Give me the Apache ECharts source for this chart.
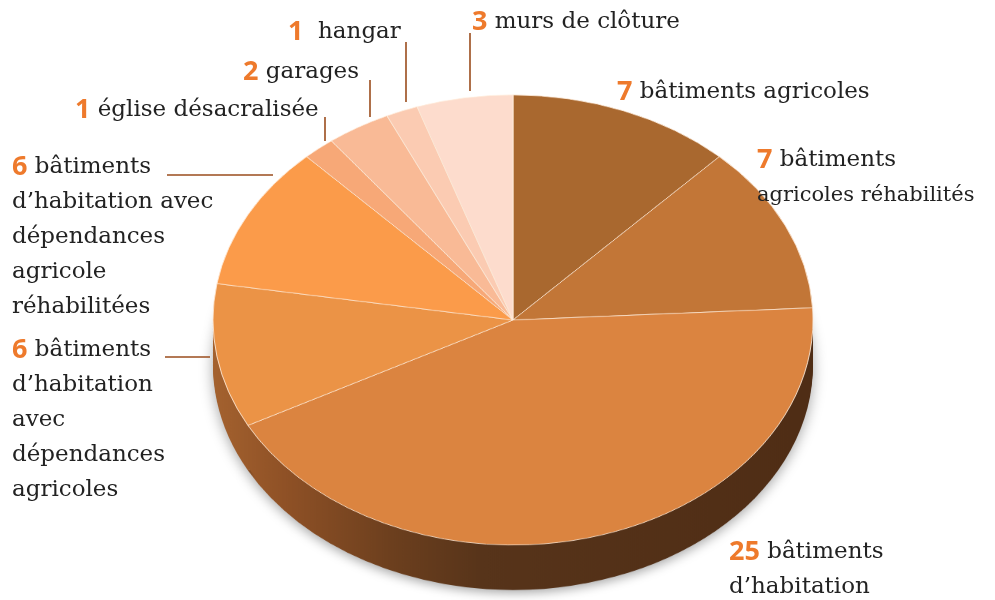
<!DOCTYPE html>
<html>
<head>
<meta charset="utf-8">
<script src="https://cdn.jsdelivr.net/npm/echarts@6/dist/echarts.min.js"></script>
<style>
    html, body { margin: 0; padding: 0; background: #fff; }
    #wrap { position: relative; width: 995px; height: 600px; overflow: hidden; }
    /* the pie is drawn round, then flattened to an ellipse */
    #pie { position: absolute; left: 0; top: 0; width: 995px; height: 800px; transform: scaleY(0.75); transform-origin: 0 0; }
    #labels { position: absolute; left: 0; top: 0; width: 995px; height: 600px; pointer-events: none; }
</style>
</head>
<body>
<div id="wrap">
    <div id="pie"></div>
    <div id="labels"></div>
</div>
<script>
// slices, clockwise from 12 o'clock
var names = [
    "bâtiments agricoles",
    "bâtiments\nagricoles réhabilités",
    "bâtiments\nd’habitation",
    "bâtiments\nd’habitation\navec\ndépendances\nagricoles",
    "bâtiments\nd’habitation avec\ndépendances\nagricole\nréhabilitées",
    "église désacralisée",
    "garages",
    "hangar",
    "murs de clôture"
];
var values = [7, 7, 25, 6, 6, 1, 2, 1, 3];

var topColors = ["#a9682f", "#c27637", "#db8440", "#eb9346", "#fb9b4a", "#f7a877", "#f9ba96", "#fbcbb2", "#fddccd"];

// label anchors (top-left of first line) and leader lines
var labelPos = [[617, 75], [757, 143], [729, 535], [12, 333], [12, 150], [75, 93], [243, 55], [288, 15], [472, 5]];
var numGap = [" ", " ", " ", " ", " ", " ", " ", "  ", " "];
// lines set tighter in the original: "label:line"
var condensed = ["1:1"];
var leaders = [
    [[470, 33], [470, 91]],
    [[406, 42], [406, 102]],
    [[370, 80], [370, 117]],
    [[325, 117], [325, 141]],
    [[167, 175], [273, 175]],
    [[165, 357], [210, 357]]
];

var scaleY = 0.75;
var cx = 513, cy = 320, radius = 300, depth = 45;

drawPieFun();
drawLabelsFun();

/**
 * 饼图 -- 顶面 + 侧面
 */
function drawPieFun() {
    var myChart = echarts.init(document.getElementById('pie'));

    var sideColor = new echarts.graphic.LinearGradient(213, 0, 813, 0, [
        { offset: 0, color: '#a4622f' },
        { offset: 0.12, color: '#8f5126' },
        { offset: 0.3, color: '#6c3f1e' },
        { offset: 0.45, color: '#57341a' },
        { offset: 1, color: '#4f2d15' }
    ], true);

    var data = [];
    var sideData = [];
    for (var i = 0; i < values.length; i++) {
        data.push({ name: names[i], value: values[i], itemStyle: { color: topColors[i] } });
        sideData.push({ name: names[i], value: values[i] });
    }

    var series = [];
    for (var k = depth; k > 0; k -= 3) {
        series.push({
            type: 'pie',
            silent: true,
            animation: false,
            center: [cx, (cy + k) / scaleY],
            radius: radius,
            startAngle: 90,
            label: { show: false },
            labelLine: { show: false },
            itemStyle: k === depth ? {
                color: sideColor,
                shadowBlur: 14,
                shadowColor: 'rgba(0,0,0,0.35)',
                shadowOffsetY: 4
            } : { color: sideColor },
            data: sideData
        });
    }
    series.push({
        type: 'pie',
        silent: true,
        animation: false,
        center: [cx, cy / scaleY],
        radius: radius,
        startAngle: 90,
        label: { show: false },
        labelLine: { show: false },
        itemStyle: {
            borderColor: 'rgba(255, 236, 218, 0.85)',
            borderWidth: 1
        },
        data: data
    });

    myChart.setOption({ animation: false, series: series });
}

/**
 * 标签
 */
function drawLabelsFun() {
    var myChart = echarts.init(document.getElementById('labels'));
    var elements = [];

    for (var i = 0; i < values.length; i++) {
        var lines = names[i].split("\n");
        var text = '{n|' + values[i] + '}{t|' + numGap[i] + lines[0] + '}';
        for (var j = 1; j < lines.length; j++) {
            var tag = condensed.indexOf(i + ':' + j) >= 0 ? 'c' : 't';
            text += '\n{' + tag + '|' + lines[j] + '}';
        }
        elements.push({
            type: 'text',
            x: labelPos[i][0],
            y: labelPos[i][1],
            style: {
                text: text,
                align: 'left',
                verticalAlign: 'top',
                rich: {
                    n: { fontFamily: 'Open Sans', fontWeight: 'bold', fontSize: 27, fill: '#ee7a2c', lineHeight: 35 },
                    t: { fontFamily: 'DejaVu Serif', fontSize: 23, fill: '#222222', lineHeight: 35 },
                    c: { fontFamily: 'DejaVu Serif', fontSize: 21, fill: '#222222', lineHeight: 35 }
                }
            }
        });
    }

    for (var m = 0; m < leaders.length; m++) {
        elements.push({
            type: 'polyline',
            shape: { points: leaders[m] },
            style: { stroke: '#9a4c1c', lineWidth: 1.6, fill: null }
        });
    }

    myChart.setOption({ animation: false, graphic: { elements: elements } });
}
</script>
</body>
</html>
